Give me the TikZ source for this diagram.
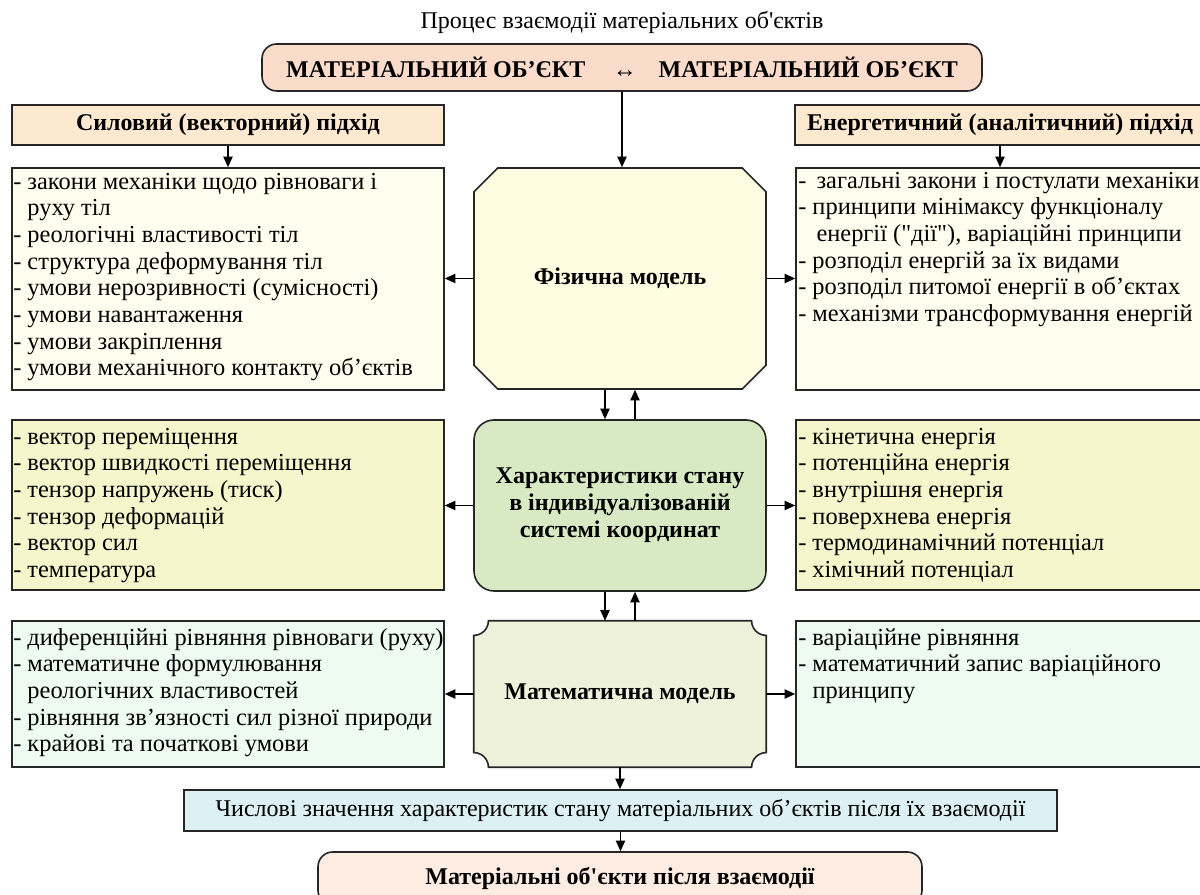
\documentclass[tikz,border=0pt]{standalone}
\usepackage{fontspec}
\setmainfont{Liberation Serif}
\usetikzlibrary{arrows.meta,shapes.misc}
\definecolor{topc}{HTML}{FBDCCB}
\definecolor{botc}{HTML}{FDECE2}
\definecolor{hdrc}{HTML}{FCE9D0}
\definecolor{lonec}{HTML}{FFFFF0}
\definecolor{fizc}{HTML}{FFFDE1}
\definecolor{harc}{HTML}{D7EAC3}
\definecolor{ltwoc}{HTML}{F5F6CB}
\definecolor{matc}{HTML}{EEF2DB}
\definecolor{lthreec}{HTML}{EEFBF0}
\definecolor{chislc}{HTML}{DDF1F4}
\begin{document}
\begin{tikzpicture}[x=0.75pt,y=0.75pt,
  box/.style={draw=black!85, line width=1.2pt, inner sep=0pt},
  arr/.style={line width=1.1pt, -{Triangle[length=8pt,width=7pt]}},
  lst/.style={anchor=north west, align=left, inner sep=0pt, font=\fontsize{18.3}{20}\selectfont},
  ctr/.style={font=\fontsize{18}{20.25}\selectfont\bfseries, align=center}
]
\useasboundingbox (0,0) rectangle (1200,895);
\clip (0,0) rectangle (1200,895);

\node[font=\fontsize{18}{20}\selectfont] (title) at (622,873) {Процес взаємодії матеріальних об\textquotesingle єктів};

\node[box, rounded corners=11pt, fill=topc, minimum width=540pt, minimum height=35.25pt, font=\fontsize{18}{20}\selectfont\bfseries] (top) at (622,827.5) {МАТЕРІАЛЬНИЙ ОБ’ЄКТ \hspace{0.9em}↔\hspace{0.9em}МАТЕРІАЛЬНИЙ ОБ’ЄКТ};

\node[box, fill=hdrc, minimum width=324pt, minimum height=30pt, ctr] (hl) at (228,770) {Силовий (векторний) підхід};
\node[box, fill=hdrc, minimum width=307.5pt, minimum height=30pt, ctr] (hr) at (1000,770) {Енергетичний (аналітичний) підхід};

\node[box, fill=lonec, minimum width=324pt, minimum height=166.5pt] (l1) at (228,616) {};
\node[box, fill=lonec, minimum width=310.5pt, minimum height=166.5pt] (r1) at (1003,616) {};
\node[box, shape=chamfered rectangle, chamfered rectangle xsep=11pt, chamfered rectangle ysep=10pt, fill=fizc, minimum width=219pt, minimum height=165.75pt, ctr] (fiz) at (620,616.5) {Фізична модель};

\node[box, fill=ltwoc, minimum width=324pt, minimum height=127.5pt] (l2) at (228,390) {};
\node[box, fill=ltwoc, minimum width=310.5pt, minimum height=127.5pt] (r2) at (1003,390) {};
\node[box, rounded corners=15pt, fill=harc, minimum width=219pt, minimum height=128.25pt, ctr] (har) at (620,389.5) {Характеристики стану\\в індивідуалізованій\\системі координат};

\node[box, fill=lthreec, minimum width=324pt, minimum height=109.5pt] (l3) at (228,201) {};
\node[box, fill=lthreec, minimum width=310.5pt, minimum height=109.5pt] (r3) at (1003,201) {};
\node[inner sep=0pt, minimum width=219pt, minimum height=109.5pt] (mat) at (620,201) {};
\draw[line width=1.2pt, draw=black!85, fill=matc]
  ([xshift=11pt]mat.north west) -- ([xshift=-11pt]mat.north east)
  arc[start angle=180, end angle=270, radius=11pt]
  -- ([yshift=11pt]mat.south east)
  arc[start angle=90, end angle=180, radius=11pt]
  -- ([xshift=11pt]mat.south west)
  arc[start angle=0, end angle=90, radius=11pt]
  -- ([yshift=-11pt]mat.north west)
  arc[start angle=270, end angle=360, radius=11pt] -- cycle;
\node[ctr] (matt) at (mat.center) {Математична модель};

\node[box, fill=chislc, minimum width=654.75pt, minimum height=30.75pt, font=\fontsize{18}{20}\selectfont] (chisl) at (620.5,84.5) {Числові значення характеристик стану матеріальних об’єктів після їх взаємодії};
\node[box, rounded corners=11pt, fill=botc, minimum width=453pt, minimum height=39.75pt, font=\fontsize{18}{20}\selectfont\bfseries] (bot) at (620,16.5) {Матеріальні об\textquotesingle єкти після взаємодії};

% texts
\node[lst] (t1) at (13,724.7) {\strut- закони механіки щодо рівноваги і\\\phantom{- }руху тіл\\- реологічні властивості тіл\\- структура деформування тіл\\- умови нерозривності (сумісності)\\- умови навантаження\\- умови закріплення\\- умови механічного контакту об’єктів};
\node[lst] (t2) at (798,725.7) {\strut- \,загальні закони і постулати механіки\\- принципи мінімаксу функціоналу\\\phantom{- }\,енергії (\textquotedbl дії\textquotedbl), варіаційні принципи\\- розподіл енергій за їх видами\\- розподіл питомої енергії в об’єктах\\- механізми трансформування енергій};
\node[lst] (t3) at (13,469.7) {\strut- вектор переміщення\\- вектор швидкості переміщення\\- тензор напружень (тиск)\\- тензор деформацій\\- вектор сил\\- температура};
\node[lst] (t4) at (798,469.7) {\strut- кінетична енергія\\- потенційна енергія\\- внутрішня енергія\\- поверхнева енергія\\- термодинамічний потенціал\\- хімічний потенціал};
\node[lst] (t5) at (13,268.8) {\strut- диференційні рівняння рівноваги (руху)\\- математичне формулювання\\\phantom{- }реологічних властивостей\\- рівняння зв’язності сил різної природи\\- крайові та початкові умови};
\node[lst] (t6) at (798,268.8) {\strut- варіаційне рівняння\\- математичний запис варіаційного\\\phantom{- }принципу};

% arrows
\draw[arr] (top.south) -- (top.south |- fiz.north);
\draw[arr] (hl.south) -- (l1.north);
\draw[arr] (hr.south) -- (hr.south |- r1.north);
\draw[arr] (fiz.west) -- (fiz.west -| l1.east);
\draw[arr] (fiz.east) -- (fiz.east -| r1.west);
\draw[arr] ([xshift=-11.25pt]fiz.south) -- ([xshift=-11.25pt]har.north);
\draw[arr] ([xshift=11.25pt]har.north) -- ([xshift=11.25pt]fiz.south);
\draw[arr] (har.west) -- (har.west -| l2.east);
\draw[arr] (har.east) -- (har.east -| r2.west);
\draw[arr] ([xshift=-11.25pt]har.south) -- ([xshift=-11.25pt]mat.north);
\draw[arr] ([xshift=11.25pt]mat.north) -- ([xshift=11.25pt]har.south);
\draw[arr] (mat.west) -- (mat.west -| l3.east);
\draw[arr] (mat.east) -- (mat.east -| r3.west);
\draw[arr] (mat.south) -- (mat.south |- chisl.north);
\draw[arr] (chisl.south) -- (chisl.south |- bot.north);
\end{tikzpicture}
\end{document}
